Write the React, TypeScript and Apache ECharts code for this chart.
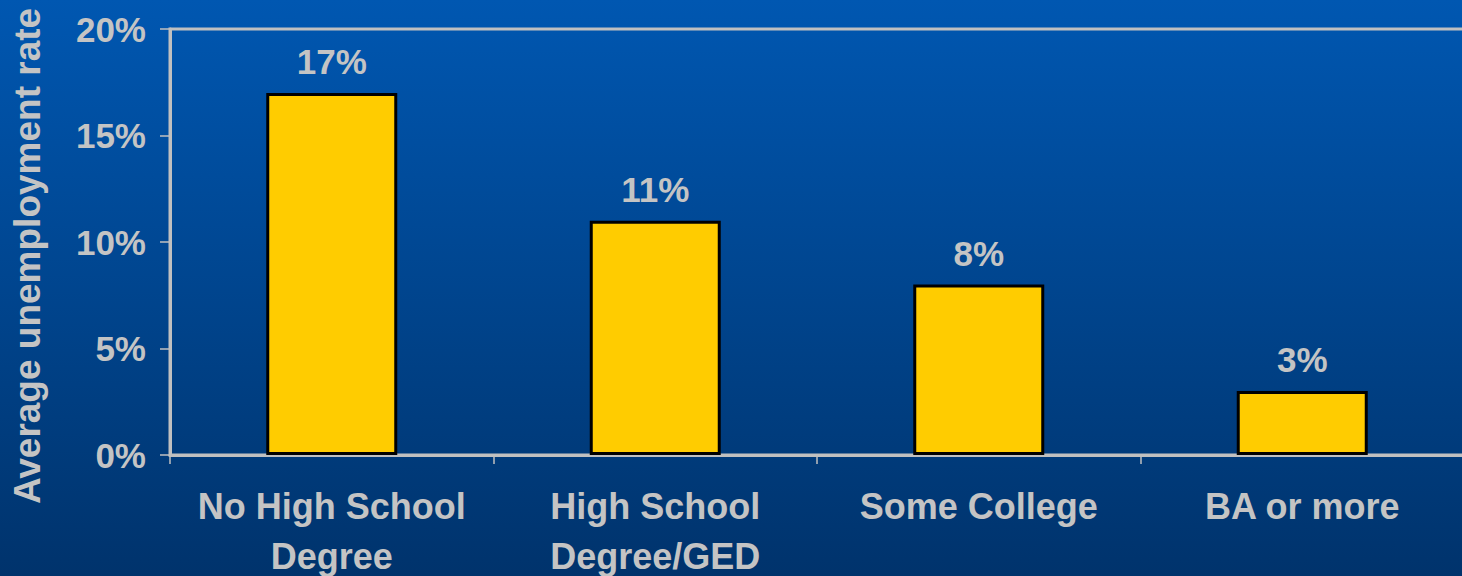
import React, { useEffect, useRef } from "react";
import * as echarts from "echarts";

const categories = ["No High School\nDegree", "High School\nDegree/GED", "Some College", "BA or more"];
const rates = [17, 11, 8, 3];
const yTicks = [0, 5, 10, 15, 20];
const yTitle = "Average unemployment rate";

const FONT = "'Liberation Sans', Arial, sans-serif";
const TEXT = "#c4c4c4";

export default function App() {
  const ref = useRef<HTMLDivElement>(null);

  useEffect(() => {
    if (!ref.current) return;
    const chart = echarts.init(ref.current, null, { renderer: "svg" });
    chart.setOption({
      animation: false,
      backgroundColor: new echarts.graphic.LinearGradient(0, 0, 0, 1, [
        { offset: 0, color: "#0057b1" },
        { offset: 1, color: "#00336c" },
      ]),
      grid: {
        left: 170,
        top: 29,
        width: 1294,
        height: 426,
        outerBoundsMode: "none",
        show: true,
        borderColor: "#c0c0c0",
        borderWidth: 3,
        backgroundColor: "transparent",
      },
      graphic: [
        {
          type: "text",
          x: 27,
          y: 256,
          rotation: Math.PI / 2,
          style: {
            text: yTitle,
            fill: TEXT,
            font: `bold 37px ${FONT}`,
            align: "center",
            verticalAlign: "middle",
          },
        },
      ],
      xAxis: {
        type: "category",
        data: categories,
        axisLine: { lineStyle: { color: "#c0c0c0", width: 3 } },
        axisTick: { show: true, length: 9, lineStyle: { color: "#c0c0c0", width: 1.5 } },
        axisLabel: {
          color: TEXT,
          fontFamily: FONT,
          fontWeight: "bold",
          fontSize: 36,
          lineHeight: 50,
          margin: 26,
          interval: 0,
        },
        splitLine: { show: false },
      },
      yAxis: {
        type: "value",
        min: yTicks[0],
        max: yTicks[yTicks.length - 1],
        interval: 5,
        axisLine: { show: true, lineStyle: { color: "#c0c0c0", width: 3 } },
        axisTick: { show: true, length: 10, lineStyle: { color: "#c0c0c0", width: 1.5 } },
        axisLabel: {
          color: TEXT,
          fontFamily: FONT,
          fontWeight: "bold",
          fontSize: 35,
          margin: 24,
          formatter: (v: number) => `${v}%`,
        },
        splitLine: { show: false },
      },
      series: [
        {
          type: "bar",
          data: rates,
          barWidth: 131,
          itemStyle: { color: "#ffcc00", borderColor: "#000000", borderWidth: 3 },
          label: {
            show: true,
            position: "top",
            distance: 14,
            color: TEXT,
            fontFamily: FONT,
            fontWeight: "bold",
            fontSize: 35,
            formatter: (p: any) => `${p.value}%`,
          },
        },
      ],
    });
    return () => chart.dispose();
  }, []);

  return (
    <div
      ref={ref}
      style={{ position: "absolute", left: 0, top: 0, width: 1462, height: 576 }}
    />
  );
}
